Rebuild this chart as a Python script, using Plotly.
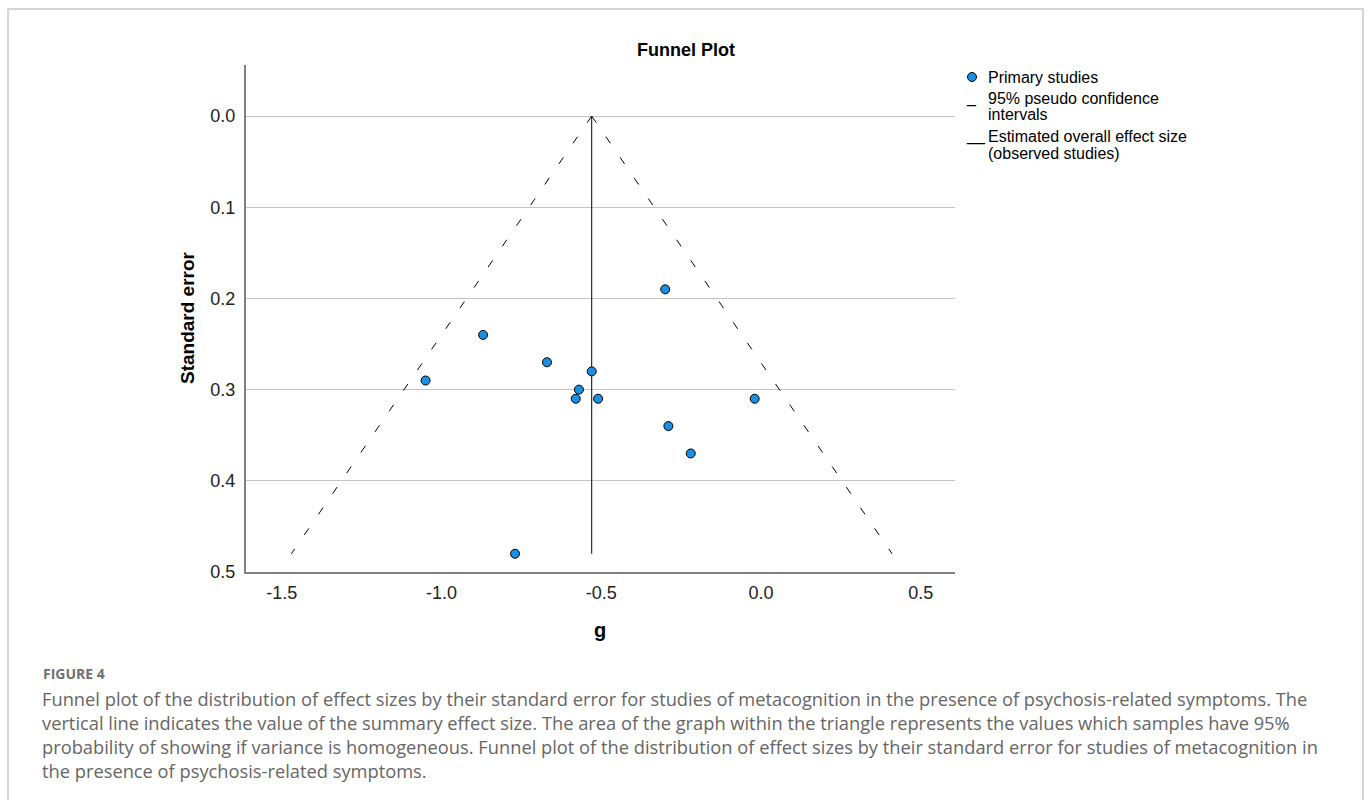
import plotly.graph_objects as go

# Study effect sizes (Hedges' g) and their standard errors
study_g = [-0.30, -0.87, -0.67, -1.05, -0.53, -0.57, -0.58, -0.51, -0.02, -0.29, -0.22, -0.77]
study_se = [0.19, 0.24, 0.27, 0.29, 0.28, 0.30, 0.31, 0.31, 0.31, 0.34, 0.37, 0.48]

# Summary effect line and 95% pseudo confidence limits
summary_g = [-0.53, -0.53]
summary_se = [0.0, 0.48]
ci_left_g = [-0.53, -1.47]
ci_right_g = [-0.53, 0.41]
ci_se = [0.0, 0.48]

x_tick_vals = [-1.5, -1.0, -0.5, 0.0, 0.5]
x_tick_text = ["-1.5", "-1.0", "-0.5", "0.0", "0.5"]
y_tick_vals = [0.0, 0.1, 0.2, 0.3, 0.4, 0.5]
y_tick_text = ["0.0", "0.1", "0.2", "0.3", "0.4", "0.5"]

# Legend entries: (symbol text, label lines)
legend_entries = [
    ("", ["Primary studies"]),
    ("_", ["95% pseudo confidence", "intervals"]),
    ("__", ["Estimated overall effect size", "(observed studies)"]),
]

caption_head = "FIGURE 4"
caption_lines = [
    "Funnel plot of the distribution of effect sizes by their standard error for studies of metacognition in the presence of psychosis-related symptoms. The",
    "vertical line indicates the value of the summary effect size. The area of the graph within the triangle represents the values which samples have 95%",
    "probability of showing if variance is homogeneous. Funnel plot of the distribution of effect sizes by their standard error for studies of metacognition in",
    "the presence of psychosis-related symptoms.",
]

W, H = 1372, 800
L, R, T, B = 246, 955, 65, 572  # plot area in pixels


def px(x):
    return (x - L) / (R - L)


def py(y):
    return (B - y) / (B - T)


CHART_FONT = "Liberation Sans, Arial, sans-serif"
CAPTION_FONT = "Open Sans, Noto Sans, sans-serif"
POINT_BLUE = "#1a8fe3"

fig = go.Figure()

ci_line = dict(color="black", width=1, dash="8px,17px")
fig.add_trace(go.Scatter(x=ci_left_g, y=ci_se, mode="lines", line=ci_line, hoverinfo="skip"))
fig.add_trace(go.Scatter(x=ci_right_g, y=ci_se, mode="lines", line=ci_line, hoverinfo="skip"))
fig.add_trace(go.Scatter(
    x=summary_g, y=summary_se, mode="lines",
    line=dict(color="black", width=1), hoverinfo="skip",
))
fig.add_trace(go.Scatter(
    x=study_g, y=study_se, mode="markers",
    marker=dict(size=9, color=POINT_BLUE, line=dict(color="black", width=1)),
))

shapes = []
annotations = []


def text_at(x, y, text, size, color="black", family=CHART_FONT, anchor="left", **kw):
    annotations.append(dict(xref="paper", yref="paper", x=px(x), y=py(y), text=text,
                            showarrow=False, xanchor=anchor, yanchor="middle", align="left",
                            font=dict(family=family, size=size, color=color), **kw))


# Legend, laid out line by line in the SPSS style
legend_rows = [77, 98, 136]
LEGEND_LINE = 17
for (symbol, lines), row_y in zip(legend_entries, legend_rows):
    for k, line in enumerate(lines):
        text_at(986, row_y + k * LEGEND_LINE, line, 16)
    if symbol:
        text_at(964, row_y, symbol, 16)
shapes.append(dict(type="circle", xref="paper", yref="paper", xsizemode="pixel", ysizemode="pixel",
                   xanchor=px(972), yanchor=py(legend_rows[0]), x0=-4.5, x1=4.5, y0=-4.5, y1=4.5,
                   fillcolor=POINT_BLUE, line=dict(color="black", width=1)))

# Axis titles
text_at(187, 318, "<b>Standard error</b>", 19, anchor="center", textangle=-90)
text_at(600, 630, "<b>g</b>", 20, anchor="center")

# Chart title
text_at(686, 50, "<b>Funnel Plot</b>", 18, anchor="center")

# Figure caption
text_at(41, 673, "<b>" + caption_head + "</b>", 14, color="#707070", family=CAPTION_FONT)
for i, line in enumerate(caption_lines):
    text_at(40, 698 + 24 * i, line, 18.3, color="#666666", family=CAPTION_FONT)

# Outer frame around the figure panel
shapes.append(dict(type="rect", xref="paper", yref="paper", layer="below",
                   x0=px(8), x1=px(1363), y0=py(9), y1=py(830),
                   line=dict(color="#c8c8c8", width=1.5)))

fig.update_layout(
    width=W, height=H,
    margin=dict(l=L, r=W - R, t=T, b=H - B, pad=0),
    paper_bgcolor="white", plot_bgcolor="white",
    showlegend=False,
    shapes=shapes,
    annotations=annotations,
    xaxis=dict(
        range=[-1.612, 0.607], tickvals=x_tick_vals, ticktext=x_tick_text,
        showgrid=False, zeroline=False, showline=True, linecolor="#808080", linewidth=2,
        ticks="", ticklabelstandoff=3,
        tickfont=dict(family=CHART_FONT, size=18, color="#222"),
    ),
    yaxis=dict(
        range=[0.5, -0.056], tickvals=y_tick_vals, ticktext=y_tick_text,
        showgrid=True, gridcolor="#c4c4c4", gridwidth=1, zeroline=False,
        showline=True, linecolor="#808080", linewidth=2,
        ticks="", ticklabelstandoff=5,
        tickfont=dict(family=CHART_FONT, size=18, color="#222"),
    ),
)

fig.write_html("out.html")
